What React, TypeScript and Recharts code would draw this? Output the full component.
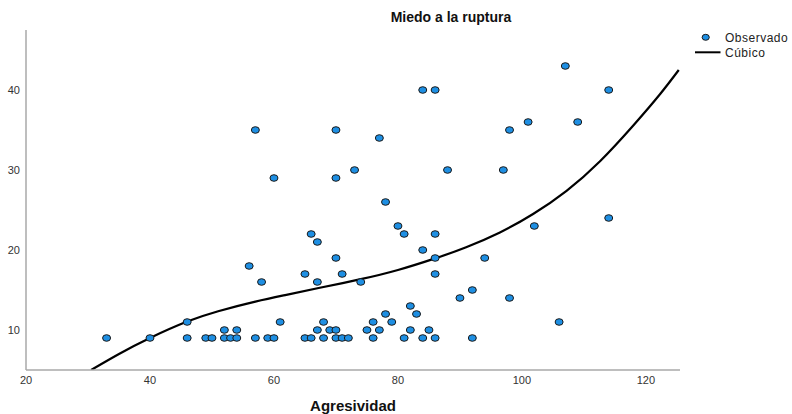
import React from 'react';
import { ComposedChart, Scatter, Line, XAxis, YAxis, Label } from 'recharts';

const obsX = [57,70,77,60,70,73,78,84,86,107,114,101,109,98,88,97,80,66,67,70,56,65,71,58,67,74,46,61,68,76,78,79,52,54,67,69,70,75,77,33,40,46,49,50,52,53,54,57,59,60,65,66,68,70,71,72,76,81,86,84,86,94,102,114,86,92,90,98,82,83,106,82,85,81,84,86,92];
const obsY = [35,35,34,29,29,30,26,40,40,43,40,36,36,35,30,30,23,22,21,19,18,17,17,16,16,16,11,11,11,11,12,11,10,10,10,10,10,10,10,9,9,9,9,9,9,9,9,9,9,9,9,9,9,9,9,9,9,22,22,20,19,19,23,24,17,15,14,14,13,12,11,10,10,9,9,9,9];

const fitX = [30.5,35,40,46,51,57,62,67.4,74,80,86,91,96.45,101.8,107.2,112.6,118,122.3,125.3];
const fitY = [5.0,7.0,9.0,11.05,12.35,13.55,14.4,15.28,16.35,17.5,18.95,20.35,22.2,24.5,27.4,31.1,35.6,39.5,42.5];

const xTicks = [20,40,60,80,100,120];
const yTicks = [10,20,30,40];

const observed = obsX.map((x, i) => ({ x, y: obsY[i] }));
const fit = fitX.map((x, i) => ({ x, y: fitY[i] }));

const Dot = (props: any) => {
  const { cx, cy } = props;
  if (cx == null || cy == null) return null;
  return <ellipse cx={cx} cy={cy} rx={4} ry={3.3} fill="#1e8fe3" stroke="#1a1a1a" strokeWidth={1} />;
};

const font = 'Arial, "Liberation Sans", sans-serif';

export default function App() {
  return (
    <div style={{ position: 'absolute', left: 0, top: 0, width: 792, height: 414, background: '#fff', fontFamily: font }}>
      <div style={{ position: 'absolute', left: 351, top: 9, width: 200, textAlign: 'center', fontWeight: 'bold', fontSize: 14, color: '#111' }}>
        Miedo a la ruptura
      </div>
      <svg width={100} height={40} style={{ position: 'absolute', left: 692, top: 28 }}>
        <ellipse cx={13.7} cy={9.3} rx={3.6} ry={3} fill="#1e8fe3" stroke="#1a1a1a" strokeWidth={1} />
        <text x={33} y={13.6} fontSize={12} letterSpacing={0.5} fill="#222" fontFamily={font}>Observado</text>
        <line x1={3} x2={28.5} y1={24.3} y2={24.3} stroke="#000" strokeWidth={2} />
        <text x={33} y={28.6} fontSize={12} letterSpacing={0.5} fill="#222" fontFamily={font}>Cúbico</text>
      </svg>
      <ComposedChart width={792} height={414} margin={{ top: 30, right: 112, bottom: 0, left: 0 }}>
        <XAxis
          type="number"
          dataKey="x"
          domain={[20, 125.5]}
          ticks={xTicks}
          allowDataOverflow
          height={44}
          tickSize={0}
          tickMargin={6}
          tickLine={false}
          axisLine={{ stroke: '#a8a8a8', strokeWidth: 1.5 }}
          tick={{ fontSize: 11, fill: '#333', fontFamily: font }}
        >
          <Label value="Agresividad" position="insideBottom" offset={3} style={{ fontWeight: 'bold', fontSize: 15, fill: '#111', fontFamily: font }} />
        </XAxis>
        <YAxis
          type="number"
          dataKey="y"
          domain={[5, 47.5]}
          ticks={yTicks}
          allowDataOverflow
          width={26}
          tickSize={0}
          tickMargin={6}
          tickLine={false}
          axisLine={{ stroke: '#a8a8a8', strokeWidth: 1.5 }}
          tick={{ fontSize: 11, fill: '#333', fontFamily: font }}
        />
        <Scatter data={observed} dataKey="y" shape={Dot} isAnimationActive={false} />
        <Line data={fit} dataKey="y" type="natural" stroke="#000" strokeWidth={2.2} dot={false} isAnimationActive={false} />
      </ComposedChart>
    </div>
  );
}
